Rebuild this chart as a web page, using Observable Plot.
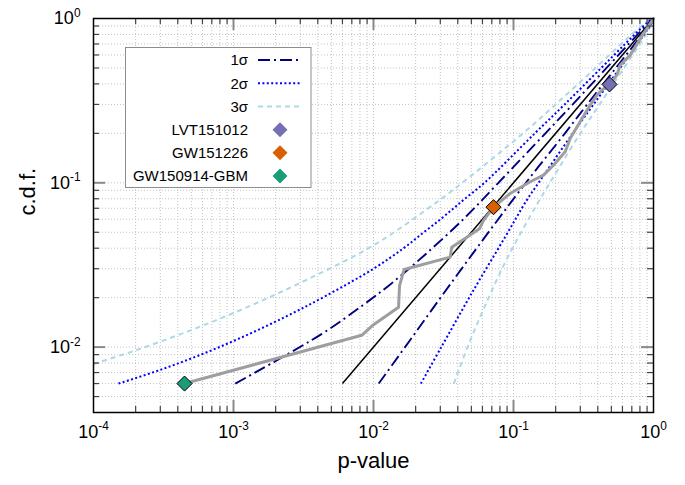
<!DOCTYPE html>
<html><head><meta charset="utf-8">
<script src="https://cdn.jsdelivr.net/npm/d3@7"></script>
<script src="https://cdn.jsdelivr.net/npm/@observablehq/plot@0.6"></script>
<style>body{margin:0;background:#fff} svg{display:block}</style>
</head><body><div id="chart"></div>
<script>
// ---- data (x = p-value, y = c.d.f.) ----
const sigma3Upper = [[1e-4,0.0079],[2e-4,0.00956],[5e-4,0.0127],[1.3e-3,0.01775],[3.3e-3,0.0256],[0.01,0.0416],[0.0283,0.0762],[0.043,0.1],[0.117,0.2],[0.20,0.3],[0.385,0.5],[0.588,0.7],[0.757,0.85],[0.886,0.95],[0.961,1]];
const sigma2Upper = [[1.51e-4,0.006],[3e-4,0.00727],[6e-4,0.00908],[1.2e-3,0.01167],[2.4e-3,0.01543],[4.5e-3,0.02037],[0.01,0.030],[0.0164,0.04],[0.0229,0.05],[0.0301,0.06],[0.0374,0.07],[0.045,0.08],[0.062,0.1],[0.142,0.2],[0.232,0.3],[0.423,0.5],[0.627,0.7],[0.791,0.85],[0.911,0.95],[0.978,1]];
const sigma1Upper = [[1.03e-3,0.006],[4.25e-3,0.012],[8.4e-3,0.018],[0.0131,0.024],[0.0229,0.036],[0.0438,0.06],[0.078,0.1],[0.169,0.2],[0.265,0.3],[0.4615,0.5],[0.665,0.7],[0.8225,0.85],[0.933,0.95],[0.989,1]];
const sigma1Lower = [[0.0109,0.006],[0.0196,0.012],[0.0352,0.024],[0.064,0.048],[0.118,0.096],[0.233,0.2],[0.336,0.3],[0.5385,0.5],[0.735,0.7],[0.8775,0.85],[0.967,0.95],[0.999,1]];
const sigma2Lower = [[0.0218,0.006],[0.0305,0.01],[0.050,0.0211],[0.087,0.0467],[0.124,0.0781],[0.151,0.1],[0.265,0.2],[0.373,0.3],[0.577,0.5],[0.768,0.7],[0.901,0.85],[0.978,0.95],[0.9999,1]];
const sigma3Lower = [[0.0375,0.006],[0.047,0.01],[0.062,0.0175],[0.091,0.0353],[0.148,0.0746],[0.182,0.1],[0.30,0.2],[0.412,0.3],[0.615,0.5],[0.80,0.7],[0.921,0.85],[0.986,0.95],[1,1]];
const diagonal = [[0.006,0.006],[1,1]];
const empirical = [[4.47e-4,0.006],[8.24e-3,0.0118],[0.01,0.0137],[0.0151,0.0175],[0.01535,0.0237],[0.01656,0.0297],[0.0353,0.0353],[0.0362,0.0406],[0.047,0.047],[0.0571,0.0525],[0.0611,0.059],[0.072,0.0711],[0.0947,0.0861],[0.1316,0.1015],[0.1638,0.1113],[0.193,0.128],[0.234,0.1545],[0.254,0.186],[0.299,0.235],[0.353,0.297],[0.394,0.3415],[0.427,0.366],[0.485,0.397],[0.547,0.452],[0.578,0.52],[0.682,0.598],[0.804,0.755],[1,1]];
const eventNames = ["LVT151012","GW151226","GW150914-GBM"];
const eventX = [0.485, 0.072, 4.47e-4];
const eventY = [0.397, 0.0711, 0.006];
const eventColors = ["#7570b3","#d95f02","#1b9e77"];
const sigmaLabels = ["1σ","2σ","3σ"];
const xMajor = [1e-4,1e-3,1e-2,1e-1,1];
const xTickLabels = ["10^-4","10^-3","10^-2","10^-1","10^0"];
const yMajor = [1e-2,1e-1,1];
const yTickLabels = ["10^-2","10^-1","10^0"];
const minorMult = [2,3,4,5,6,7,8,9];

// ---- layout ----
const W=685, H=485, mL=93, mR=32, mT=18, mB=73;
const frameW = W-mL-mR, frameH = H-mT-mB;
const xMinor = xMajor.slice(0,-1).flatMap(d => minorMult.map(m => m*d));
const yMinor = [1e-3,1e-2,1e-1].flatMap(d => minorMult.map(m => m*d)).filter(v => v > 0.0041 && v < 1);
const events = eventNames.map((n,i) => ({name:n, x:eventX[i], y:eventY[i], color:eventColors[i]}));

const styles = {
  s1: {stroke:"#000080", strokeWidth:1.9, strokeDasharray:"12,4,2,4"},
  s2: {stroke:"#0000ff", strokeWidth:2, strokeDasharray:"2,2.4"},
  s3: {stroke:"#add8e6", strokeWidth:2, strokeDasharray:"5,4"}
};
const line = (data, o) => Plot.line(data, {x: d => d[0], y: d => d[1], strokeLinecap:"butt", ...o});
const font = "Liberation Sans, Arial, Helvetica, sans-serif";

const plot = Plot.plot({
  width: W, height: H, marginLeft: mL, marginRight: mR, marginTop: mT, marginBottom: mB,
  x: {type:"log", domain:[1e-4,1], axis:null},
  y: {type:"log", domain:[0.004,1], axis:null},
  color: {type:"identity"},
  style: {fontFamily: font, background:"white", color:"black"},
  marks: [
    Plot.ruleX([...xMinor, ...xMajor.slice(1,-1)], {stroke:"#c2c2c2", strokeWidth:1, strokeDasharray:"1,2"}),
    Plot.ruleY([...yMinor, ...yMajor.slice(0,-1)], {stroke:"#c2c2c2", strokeWidth:1, strokeDasharray:"1,2"}),
    line(sigma3Upper, {...styles.s3, curve:"catmull-rom"}),
    line(sigma3Lower, {...styles.s3, curve:"catmull-rom"}),
    line(sigma2Upper, {...styles.s2, curve:"catmull-rom"}),
    line(sigma2Lower, {...styles.s2, curve:"catmull-rom"}),
    line(sigma1Upper, {...styles.s1, curve:"catmull-rom"}),
    line(sigma1Lower, {...styles.s1, curve:"catmull-rom"}),
    line(diagonal, {stroke:"black", strokeWidth:1.5}),
    Plot.line(empirical, {x: d => d[0], y: d => d[1], stroke:"#9e9e9e", strokeWidth:3, strokeLinejoin:"round"}),
    Plot.dot(events, {x:"x", y:"y", fill:"color", stroke:"black", strokeWidth:1, symbol:"diamond2", r:6.8}),
    // minor ticks (inward, all four sides)
    Plot.tickX(xMinor, {insetTop: frameH-6, stroke:"#444", strokeWidth:1.2}),
    Plot.tickX(xMinor, {insetBottom: frameH-6, stroke:"#444", strokeWidth:1.2}),
    Plot.tickY(yMinor, {insetRight: frameW-6, stroke:"#444", strokeWidth:1.2}),
    Plot.tickY(yMinor, {insetLeft: frameW-6, stroke:"#444", strokeWidth:1.2}),
    // major ticks
    Plot.tickX(xMajor.slice(1,-1), {insetTop: frameH-12, stroke:"#8a8a8a", strokeWidth:2}),
    Plot.tickX(xMajor.slice(1,-1), {insetBottom: frameH-12, stroke:"#8a8a8a", strokeWidth:2}),
    Plot.tickY(yMajor.slice(0,-1), {insetRight: frameW-12, stroke:"#8a8a8a", strokeWidth:2}),
    Plot.tickY(yMajor.slice(0,-1), {insetLeft: frameW-12, stroke:"#8a8a8a", strokeWidth:2}),
    Plot.frame({stroke:"black", strokeWidth:1.5}),
    // tick labels
    Plot.text(xMajor, {x: d => d, frameAnchor:"bottom", dy:25, text:(d,i) => xTickLabels[i], fontSize:18, fill:"black"}),
    Plot.text(yMajor, {y: d => d, frameAnchor:"left", dx:-13, textAnchor:"end", text:(d,i) => yTickLabels[i], fontSize:18, fill:"black"}),
    // axis titles
    Plot.text(["p-value"], {frameAnchor:"bottom", dy:55, text: d => d, fontSize:22, fill:"black"}),
    Plot.text(["c.d.f."], {frameAnchor:"left", dx:-66, rotate:-90, text: d => d, fontSize:22, fill:"black"})
  ]
});

const svg = d3.select(plot);
// superscripts for tick labels
svg.selectAll("text").each(function(){
  const t = d3.select(this); const s = t.text();
  if (s.includes("^")) {
    const [b,e] = s.split("^");
    t.text(b);
    t.append("tspan").attr("dy","-0.6em").attr("font-size","0.66em").text(e);
  }
});

// legend
const lg = svg.append("g").attr("font-family", font).attr("font-size", 15);
lg.append("rect").attr("x",125.5).attr("y",47.5).attr("width",185.5).attr("height",140)
  .attr("fill","white").attr("stroke","#8c8c8c").attr("stroke-width",1);
const rowsY = [60, 83.3, 106.5, 129.7, 152.8, 176];
const lineStyles = [styles.s1, styles.s2, styles.s3];
sigmaLabels.forEach((lab,i) => {
  lg.append("text").attr("x",248).attr("y",rowsY[i]).attr("dy","0.36em").attr("text-anchor","end").text(lab);
  const st = lineStyles[i];
  lg.append("line").attr("x1",258).attr("x2",302).attr("y1",rowsY[i]).attr("y2",rowsY[i])
    .attr("stroke",st.stroke).attr("stroke-width",st.strokeWidth).attr("stroke-dasharray",st.strokeDasharray);
});
events.forEach((ev,i) => {
  const y = rowsY[3+i];
  lg.append("text").attr("x",248).attr("y",y).attr("dy","0.36em").attr("text-anchor","end").text(ev.name);
  lg.append("path").attr("d",`M280,${y-7.5}L287.5,${y}L280,${y+7.5}L272.5,${y}Z`).attr("fill",ev.color);
});

document.getElementById("chart").appendChild(plot);
</script>
</body></html>
